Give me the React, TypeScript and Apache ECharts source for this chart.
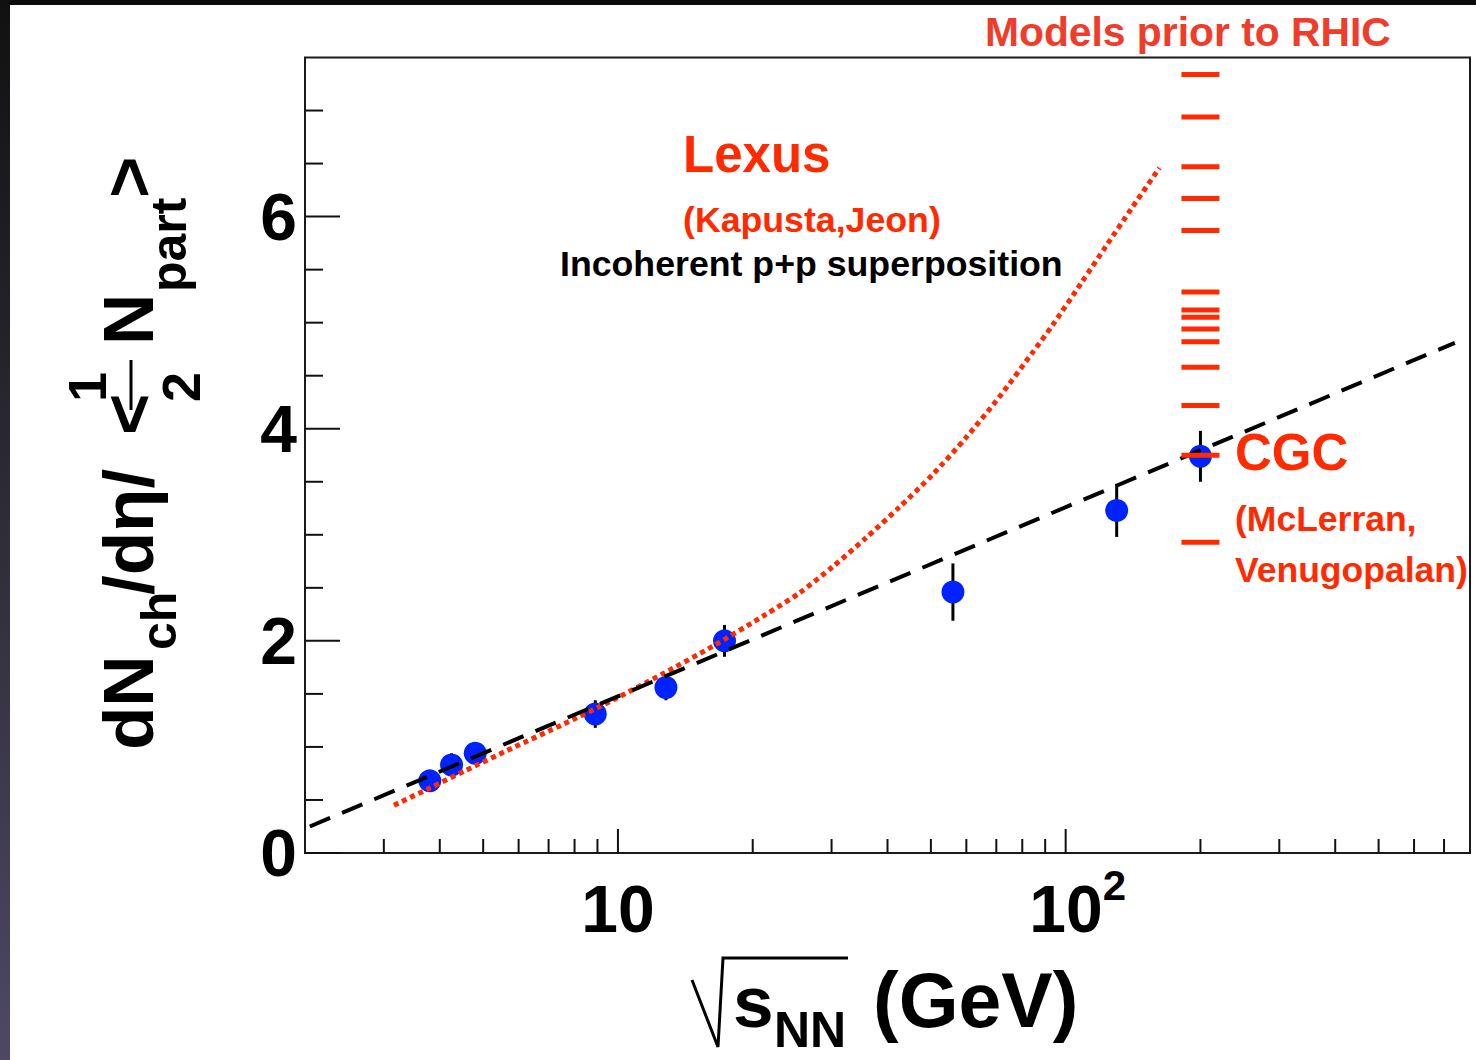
import React, { useEffect, useRef } from "react";
import * as echarts from "echarts";

const FONT = '"Liberation Sans", Arial, Helvetica, sans-serif';
const RED = "#ff2a00";
const BLUE = "#0022ff";

// Measured charged multiplicity per participant pair vs. collision energy
const energies = [3.8, 4.25, 4.8, 8.9, 12.8, 17.3, 56, 130, 200];
const multiplicity = [0.68, 0.83, 0.94, 1.31, 1.56, 2.0, 2.46, 3.23, 3.74];
const multiplicityErr = [0.1, 0.11, 0.1, 0.13, 0.12, 0.15, 0.27, 0.25, 0.24];

// Lexus prediction (Kapusta, Jeon)
const lexusEnergy = [3.16, 3.79, 4.58, 5.81, 7.52, 9.72, 12.6, 16.3, 21.4, 25.4, 30.2, 35.8, 42.5, 50.5, 60.0, 71.1, 84.4, 93.6, 109, 123, 141, 162];
const lexusValue = [0.45, 0.61, 0.78, 0.99, 1.21, 1.44, 1.69, 1.95, 2.25, 2.45, 2.7, 2.97, 3.26, 3.57, 3.92, 4.3, 4.72, 4.98, 5.39, 5.72, 6.09, 6.46];

// Logarithmic trend: a straight line on the log-energy axis
const trendEnergy = [2.05, 740];
const trendValue = [0.25, 4.81];

// Model predictions made before RHIC, all at 200 GeV
const modelEnergy = 200;
const modelValues = [7.34, 6.94, 6.47, 6.17, 5.87, 5.29, 5.12, 5.05, 4.94, 4.82, 4.58, 4.22, 3.75, 2.93];

// Axis ranges and tick positions
const X_MIN = 2;
const X_MAX = 800;
const Y_MIN = 0;
const Y_MAX = 7.5;
const xMajorTicks = [10, 100];
const xMinorTicks = [3, 4, 5, 6, 7, 8, 9, 20, 30, 40, 50, 60, 70, 80, 90, 200, 300, 400, 500, 600, 700];
const yMajorTicks = [0, 2, 4, 6];
const yMinorTicks = [0.5, 1, 1.5, 2.5, 3, 3.5, 4.5, 5, 5.5, 6.5, 7];

function tickSeries(values: number[], onXAxis: boolean, len: number) {
  return {
    type: "custom",
    coordinateSystem: "cartesian2d",
    silent: true,
    clip: false,
    z: 3,
    encode: { x: 0, y: 1 },
    data: onXAxis ? values.map((v) => [v, Y_MIN]) : values.map((v) => [X_MIN, v]),
    renderItem: (_p: any, api: any) => {
      const p = api.coord([api.value(0), api.value(1)]);
      const shape = onXAxis
        ? { x1: p[0], y1: p[1], x2: p[0], y2: p[1] - len }
        : { x1: p[0], y1: p[1], x2: p[0] + len, y2: p[1] };
      return { type: "line", shape, style: { stroke: "#111", lineWidth: 2 } };
    },
  };
}

function txt(text: string, x: number, y: number, size: number, fill: string, align = "left") {
  return {
    type: "text",
    x,
    y,
    silent: true,
    z: 20,
    style: {
      text,
      fill,
      font: `bold ${size}px ${FONT}`,
      textAlign: align,
      textVerticalAlign: "middle",
    },
  };
}

// text placed on a baseline (local coordinates), centred vertically on the cap height
function onBase(text: string, x: number, base: number, size: number, weight = "bold") {
  return {
    type: "text",
    x,
    y: base - 0.35 * size,
    silent: true,
    style: {
      text,
      fill: "#000",
      font: `${weight} ${size}px ${FONT}`,
      textAlign: "left",
      textVerticalAlign: "middle",
    },
  };
}

function buildOption() {
  const numStyle = { fontSize: 66, fontWeight: "bold", fontFamily: FONT, color: "#000" };
  return {
    animation: false,
    backgroundColor: "transparent",
    grid: {
      left: 305,
      top: 57.5,
      width: 1165,
      height: 795.5,
      show: true,
      borderColor: "#1a1a1a",
      borderWidth: 2,
      backgroundColor: "transparent",
      containLabel: false,
      outerBoundsMode: "none",
    },
    xAxis: {
      type: "log",
      logBase: 10,
      min: X_MIN,
      max: X_MAX,
      axisLine: { show: false },
      axisTick: { show: false },
      splitLine: { show: false },
      minorTick: { show: false },
      axisLabel: {
        margin: 11,
        formatter: (v: number) => {
          const e = Math.log10(v);
          if (Math.abs(e - 1) < 1e-6) return "{b|10}";
          if (Math.abs(e - 2) < 1e-6) return "{c|10}{sup|2}";
          return "";
        },
        rich: {
          b: { ...numStyle, lineHeight: 66, padding: [24, 0, 0, 0] },
          c: { ...numStyle, lineHeight: 66, padding: [24, 0, 0, 24] },
          sup: { fontSize: 42, fontWeight: "bold", fontFamily: FONT, color: "#000", lineHeight: 42, verticalAlign: "top" },
        },
      },
    },
    yAxis: {
      type: "value",
      min: Y_MIN,
      max: Y_MAX,
      interval: 2,
      axisLine: { show: false },
      axisTick: { show: false },
      splitLine: { show: false },
      axisLabel: {
        ...numStyle,
        margin: 8,
        formatter: (v: number) => (yMajorTicks.includes(v) ? String(v) : ""),
      },
    },
    series: [
      tickSeries(xMajorTicks, true, 24),
      tickSeries(xMinorTicks, true, 14),
      tickSeries(yMajorTicks, false, 35),
      tickSeries(yMinorTicks, false, 18),
      {
        type: "custom",
        coordinateSystem: "cartesian2d",
        silent: true,
        z: 4,
        encode: { x: 0, y: 1 },
        data: energies.map((e, i) => [e, multiplicity[i], multiplicityErr[i]]),
        renderItem: (_p: any, api: any) => {
          const x = api.value(0);
          const y = api.value(1);
          const err = api.value(2);
          const top = api.coord([x, y + err]);
          const bot = api.coord([x, y - err]);
          return {
            type: "line",
            shape: { x1: top[0], y1: top[1], x2: bot[0], y2: bot[1] },
            style: { stroke: "#000", lineWidth: 3 },
          };
        },
      },
      {
        type: "scatter",
        z: 5,
        symbol: "circle",
        symbolSize: 23,
        itemStyle: { color: BLUE, opacity: 1 },
        data: energies.map((e, i) => [e, multiplicity[i]]),
      },
      {
        type: "line",
        z: 6,
        symbol: "none",
        smooth: 0.25,
        lineStyle: { color: RED, width: 5, type: [5, 4], cap: "butt" },
        data: lexusEnergy.map((e, i) => [e, lexusValue[i]]),
      },
      {
        type: "line",
        z: 7,
        symbol: "none",
        lineStyle: { color: "#000", width: 4, type: [22, 13], cap: "butt" },
        data: trendEnergy.map((e, i) => [e, trendValue[i]]),
      },
      {
        type: "scatter",
        z: 8,
        symbol: "rect",
        symbolSize: [38, 5],
        itemStyle: { color: RED, opacity: 1 },
        data: modelValues.map((v) => [modelEnergy, v]),
      },
    ],
    graphic: [
      txt("Models prior to RHIC", 985, 32, 40.8, "#f03c2a"),
      txt("Lexus", 683, 154, 51, RED),
      txt("(Kapusta,Jeon)", 683, 220, 35.7, RED),
      txt("Incoherent p+p superposition", 560, 264, 35.7, "#000"),
      txt("CGC", 1235, 452, 51, RED),
      txt("(McLerran,", 1235, 519, 35.5, RED),
      txt("Venugopalan)", 1235, 570, 35.5, RED),
      // x-axis title: sqrt(s_NN) (GeV)
      {
        type: "polyline",
        silent: true,
        shape: { points: [[692, 980], [718, 1047], [723, 958], [848, 958]] },
        style: { stroke: "#000", lineWidth: 3, fill: null },
      },
      onBase("s", 733, 1027, 73),
      onBase("NN", 774, 1047, 50),
      onBase("(GeV)", 873, 1027, 77),
      // y-axis title: dN_ch/dη/<½ N_part>, reading upwards
      {
        type: "group",
        x: 153,
        y: 750,
        rotation: Math.PI / 2,
        children: [
          onBase("dN", 0, 0, 71),
          onBase("ch", 100, 23, 50),
          onBase("/dη/", 155, 0, 71),
          onBase("<", 315, 0, 71),
          onBase("1", 348, -47, 54),
          {
            type: "line",
            silent: true,
            shape: { x1: 340, y1: -22, x2: 390, y2: -22 },
            style: { stroke: "#000", lineWidth: 3 },
          },
          onBase("2", 348, 47, 54),
          onBase("N", 405, 0, 71),
          onBase("part", 458, 33, 50),
          onBase(">", 552, 0, 71),
        ],
      },
    ],
  };
}

export default function App() {
  const ref = useRef<HTMLDivElement>(null);
  useEffect(() => {
    if (!ref.current) return;
    const chart = echarts.init(ref.current, undefined, { renderer: "svg" });
    chart.setOption(buildOption() as any);
    return () => chart.dispose();
  }, []);
  return (
    <div style={{ position: "absolute", left: 0, top: 0, width: 1476, height: 1060, background: "#fff", overflow: "hidden" }}>
      <div style={{ position: "absolute", left: 0, top: 0, width: 1476, height: 5, background: "#0b0b0b" }} />
      <div
        style={{
          position: "absolute",
          left: 0,
          top: 0,
          width: 10,
          height: 1060,
          background: "linear-gradient(#111111 0%, #2c2a33 45%, #4e4865 100%)",
        }}
      />
      <div ref={ref} style={{ position: "absolute", left: 0, top: 0, width: 1476, height: 1060 }} />
    </div>
  );
}
